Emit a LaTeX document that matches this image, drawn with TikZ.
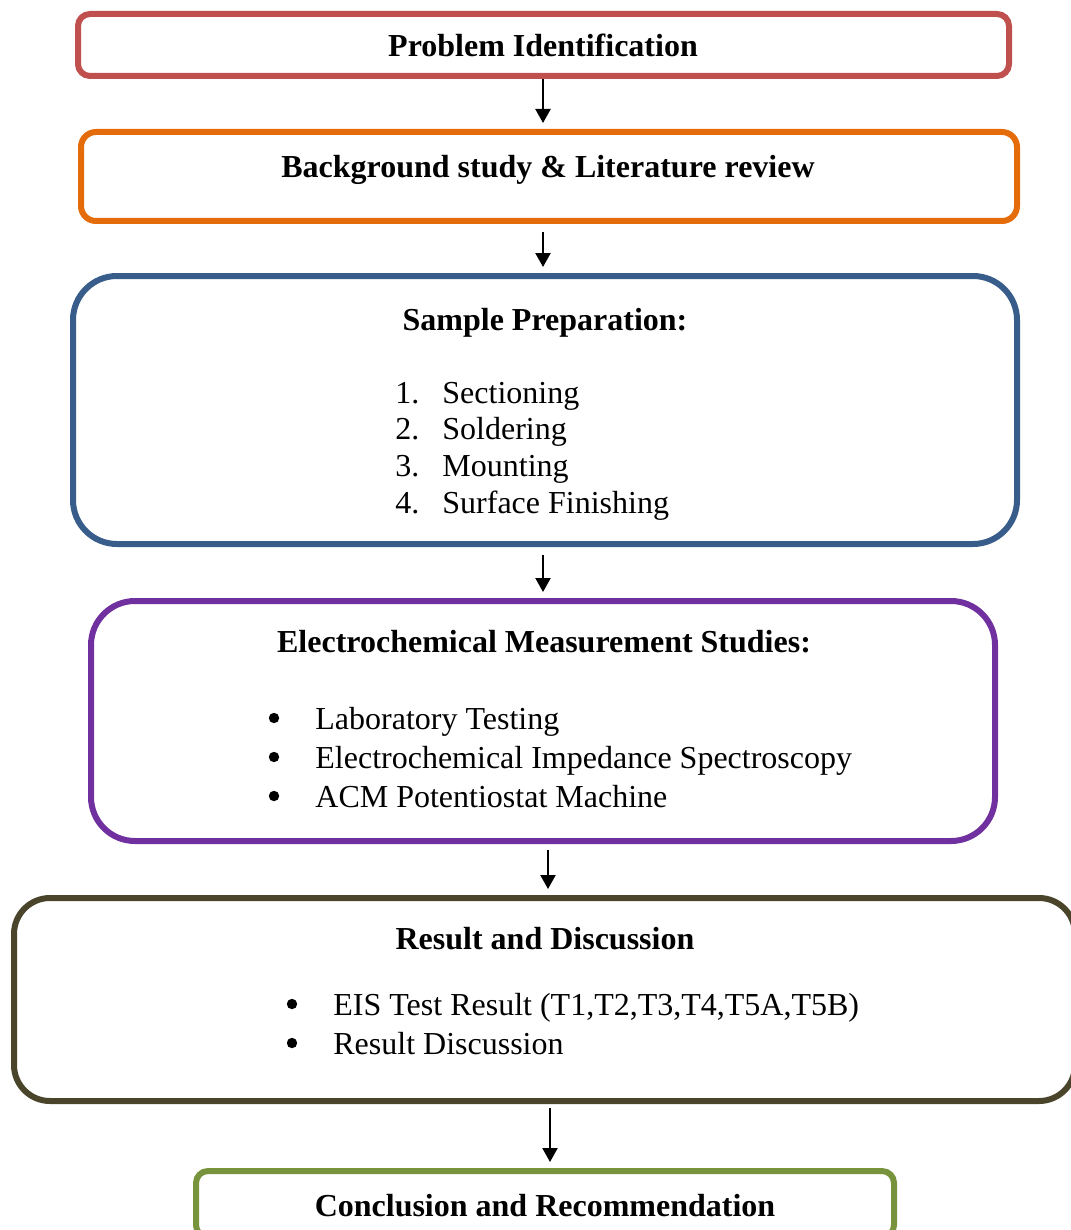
\documentclass[tikz,border=0pt]{standalone}
\usepackage{fontspec}
\setmainfont{Liberation Serif}
\usetikzlibrary{arrows.meta}
\definecolor{boxred}{HTML}{C0504D}
\definecolor{boxorange}{HTML}{E46C0A}
\definecolor{boxblue}{HTML}{385D8A}
\definecolor{boxpurple}{HTML}{7030A0}
\definecolor{boxolive}{HTML}{4A452A}
\definecolor{boxgreen}{HTML}{77933C}
\begin{document}
\begin{tikzpicture}[x=0.5pt,y=-0.5pt,
	stage/.style={draw, line width=3pt, inner sep=0pt, fill=none},
	title/.style={font=\fontsize{16}{19}\selectfont\bfseries, inner sep=0pt, anchor=base},
	item/.style={font=\fontsize{16}{19}\selectfont, inner sep=0pt, anchor=base west},
	dot/.style={circle, fill=black, inner sep=0pt, minimum size=5.2pt},
	flow/.style={-{Triangle[length=7pt,width=7.5pt]}, line width=1.1pt, shorten >=3pt}]
	\useasboundingbox (0,0) rectangle (1070,1230);
	\node [stage, boxred, rounded corners=6pt, minimum width=465.5pt, minimum height=31pt] (prob) at (543.5,45) {};
	\node [stage, boxorange, rounded corners=7.5pt, minimum width=468pt, minimum height=44.5pt] (back) at (549,176.5) {};
	\node [stage, boxblue, rounded corners=22pt, minimum width=472pt, minimum height=134pt] (samp) at (545,410) {};
	\node [stage, boxpurple, rounded corners=22pt, minimum width=452pt, minimum height=120pt] (elec) at (543,721) {};
	\node [stage, boxolive, rounded corners=18pt, minimum width=530.5pt, minimum height=101.5pt] (res) at (544.5,999.5) {};
	\node [stage, boxgreen, rounded corners=6pt, minimum width=349pt, minimum height=33pt] (conc) at (545,1204) {};
	\node [title] (probt) at (543,57) {Problem Identification};
	\node [title] (backt) at (548,178) {Background study \& Literature review};
	\node [title] (sampt) at (545,330) {Sample Preparation:};
	\node [item] (n1) at (395,403) {1.};
	\node [item] (s1) at (442,403) {Sectioning};
	\node [item] (n2) at (395,439) {2.};
	\node [item] (s2) at (442,439) {Soldering};
	\node [item] (n3) at (395,476) {3.};
	\node [item] (s3) at (442,476) {Mounting};
	\node [item] (n4) at (395,513) {4.};
	\node [item] (s4) at (442,513) {Surface Finishing};
	\node [title] (elect) at (544,652) {Electrochemical Measurement Studies:};
	\node [dot] (b1) at (274,718) {};
	\node [item] (e1) at (315,729) {Laboratory Testing};
	\node [dot] (b2) at (274,757) {};
	\node [item] (e2) at (315,768) {Electrochemical Impedance Spectroscopy};
	\node [dot] (b3) at (274,796) {};
	\node [item] (e3) at (315,807) {ACM Potentiostat Machine};
	\node [title] (rest) at (545,949) {Result and Discussion};
	\node [dot] (c1) at (292,1004) {};
	\node [item] (r1) at (333,1015) {EIS Test Result (T1,T2,T3,T4,T5A,T5B)};
	\node [dot] (c2) at (292,1043) {};
	\node [item] (r2) at (333,1054) {Result Discussion};
	\node [title] (conct) at (545,1216) {Conclusion and Recommendation};
	\draw [flow] (prob.south -| 543,0) -- (back.north -| 543,0);
	\draw [flow] ([yshift=-4pt]back.south -| 543,0) -- (samp.north -| 543,0);
	\draw [flow] ([yshift=-4pt]samp.south -| 543,0) -- (elec.north -| 543,0);
	\draw [flow] ([yshift=-3pt]elec.south -| 548,0) -- (res.north -| 548,0);
	\draw [flow] ([yshift=-2pt]res.south -| 550,0) -- (conc.north -| 550,0);
\end{tikzpicture}
\end{document}
